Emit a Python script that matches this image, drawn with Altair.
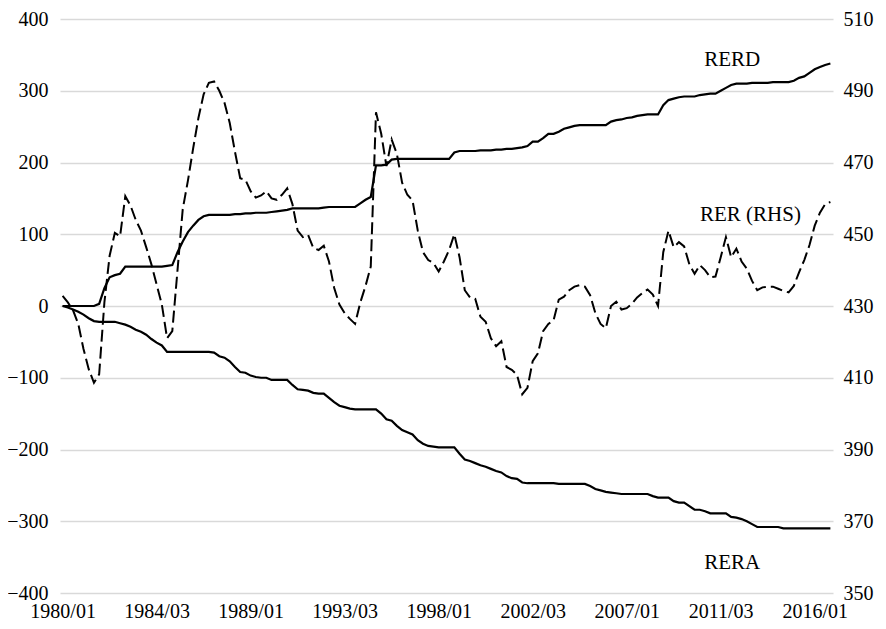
import altair as alt
import pandas as pd

# Quarterly data, 1980Q1 .. 2016Q4 (148 quarters)
start_year = 1980

# RER (right-hand scale)
rer = [
    432.8, 431.0, 428.8, 425.0, 418.0, 412.4, 408.6, 411.0, 431.0, 444.0,
    450.4, 449.4, 460.6, 458.0, 454.0, 451.0, 446.4, 441.6, 436.0, 430.4,
    421.0, 423.0, 440.0, 457.0, 465.0, 474.0, 482.4, 489.0, 492.2, 492.6,
    490.0, 486.6, 481.0, 473.0, 465.6, 465.2, 462.0, 460.2, 460.8, 462.0,
    460.0, 459.6, 461.0, 462.8, 458.4, 451.0, 449.2, 449.8, 446.2, 445.6,
    446.8, 442.4, 435.0, 430.4, 428.0, 426.4, 425.0, 431.0, 435.6, 441.0,
    484.0, 478.0, 469.0, 476.4, 472.4, 464.4, 461.0, 459.4, 451.0, 445.0,
    442.8, 442.0, 439.6, 442.4, 445.6, 450.0, 443.6, 434.4, 432.4, 432.0,
    427.0, 425.6, 421.0, 418.8, 420.2, 413.0, 412.2, 410.8, 405.4, 407.2,
    414.6, 416.8, 423.0, 425.0, 426.0, 431.8, 432.6, 434.4, 435.4, 435.8,
    435.4, 433.0, 428.0, 425.0, 423.8, 430.0, 431.2, 429.0, 429.4, 430.6,
    432.4, 433.6, 434.6, 433.2, 430.0, 445.0, 451.0, 446.4, 447.8, 446.6,
    441.6, 439.0, 441.4, 440.0, 438.0, 438.2, 443.6, 449.2, 443.6, 446.0,
    442.4, 440.4, 437.0, 434.4, 435.2, 435.4, 435.4, 434.8, 434.2, 433.8,
    435.6, 439.4, 442.8, 447.0, 452.4, 456.0, 458.4, 459.0,
]

# RERD (left scale)
rerd = [
    0, 0, 0, 0, 0, 0, 0, 3, 25, 40,
    43, 45, 55, 55, 55, 55, 55, 55, 55, 55,
    56, 57, 75, 90, 103, 112, 120, 125, 127, 127,
    127, 127, 127, 128, 128, 129, 129, 130, 130, 130,
    131, 132, 133, 134, 136, 136, 136, 136, 136, 136,
    137, 138, 138, 138, 138, 138, 138, 143, 148, 152,
    196, 196, 197, 204, 205, 205, 205, 205, 205, 205,
    205, 205, 205, 205, 205, 214, 216, 216, 216, 216,
    217, 217, 217, 218, 218, 219, 219, 220, 221, 223,
    229, 229, 234, 240, 240, 243, 247, 249, 251, 252,
    252, 252, 252, 252, 252, 257, 259, 260, 262, 263,
    265, 266, 267, 267, 267, 280, 287, 289, 291, 292,
    292, 292, 294, 295, 296, 296, 300, 304, 308, 310,
    310, 310, 311, 311, 311, 311, 312, 312, 312, 312,
    314, 318, 320, 325, 330, 333, 336, 338,
]

# RERA (left scale)
rera = [
    0, -2, -5, -8, -12, -17, -21, -22, -22, -22,
    -22, -24, -26, -29, -33, -36, -40, -46, -51, -55,
    -64, -64, -64, -64, -64, -64, -64, -64, -64, -65,
    -70, -72, -77, -85, -92, -93, -97, -99, -100, -100,
    -103, -103, -103, -103, -110, -116, -117, -118, -121, -122,
    -122, -128, -134, -139, -141, -143, -144, -144, -144, -144,
    -144, -150, -158, -160, -167, -173, -176, -179, -187, -192,
    -195, -196, -197, -197, -197, -197, -206, -214, -216, -219,
    -222, -224, -227, -230, -232, -237, -240, -241, -246, -247,
    -247, -247, -247, -247, -247, -248, -248, -248, -248, -248,
    -248, -251, -255, -257, -259, -260, -261, -262, -262, -262,
    -262, -262, -262, -265, -267, -267, -267, -272, -274, -274,
    -279, -284, -284, -286, -289, -289, -289, -289, -294, -295,
    -297, -300, -304, -308, -308, -308, -308, -308, -310, -310,
    -310, -310, -310, -310, -310, -310, -310, -310,
]

ann_text = ["RERD", "RER (RHS)", "RERA"]
ann_i = [128.2, 131.7, 128.2]
ann_v = [334, 118, -367]

left_ticks = list(range(-400, 401, 100))
right_ticks = list(range(350, 511, 20))
x_ticks = list(range(0, 148, 18))

FONT = "Liberation Serif"
n = len(rer)
idx = list(range(n))

left_df = pd.DataFrame({
    "i": idx * 2,
    "value": rerd + rera,
    "series": ["RERD"] * n + ["RERA"] * n,
})
right_df = pd.DataFrame({"i": idx, "value": rer})
ann_df = pd.DataFrame({"i": ann_i, "value": ann_v, "label": ann_text})

xscale = alt.Scale(domain=[-0.5, n - 0.5], nice=False, zero=False)
xaxis = alt.Axis(
    values=x_ticks,
    labelExpr="(floor(datum.value/4)+%d) + '/0' + (datum.value%%4+1)" % start_year,
    grid=False, title=None, domain=False, ticks=False,
    labelFont=FONT, labelFontSize=20, labelColor="black",
    labelPadding=8, labelFlush=False, labelOverlap=False,
)
yleft_scale = alt.Scale(domain=[-400, 400], nice=False, zero=False)
yleft_axis = alt.Axis(
    values=left_ticks, grid=True, gridColor="#d9d9d9", gridWidth=1.5,
    title=None, domain=False, ticks=False, labelFont=FONT,
    labelFontSize=20, labelColor="black", labelPadding=12,
)
yright_scale = alt.Scale(domain=[350, 510], nice=False, zero=False)
yright_axis = alt.Axis(
    orient="right", values=right_ticks, grid=False,
    title=None, domain=False, ticks=False, labelFont=FONT, labelFontSize=20,
    labelColor="black", labelPadding=10,
)

left_lines = alt.Chart(left_df).mark_line(color="black", strokeWidth=2.2).encode(
    x=alt.X("i:Q", scale=xscale, axis=xaxis),
    y=alt.Y("value:Q", scale=yleft_scale, axis=yleft_axis),
    detail="series:N",
)

ann = alt.Chart(ann_df).mark_text(
    font=FONT, fontSize=21, color="black", align="center", baseline="alphabetic"
).encode(
    x=alt.X("i:Q", scale=xscale, axis=xaxis),
    y=alt.Y("value:Q", scale=yleft_scale, axis=yleft_axis),
    text="label:N",
)

right_line = alt.Chart(right_df).mark_line(
    color="black", strokeWidth=2, strokeDash=[12, 5]
).encode(
    x=alt.X("i:Q", scale=xscale, axis=xaxis),
    y=alt.Y("value:Q", scale=yright_scale, axis=yright_axis),
)

left_layer = alt.layer(left_lines, ann)
chart = alt.layer(left_layer, right_line).resolve_scale(y="independent").properties(
    width=773, height=574,
    background="white",
    autosize=alt.AutoSizeParams(type="none"),
    padding={"left": 52, "top": 11, "right": 45, "bottom": 28},
).configure_view(strokeWidth=0, stroke="transparent")

chart.save("out.html", embed_options={"renderer": "svg", "actions": False})
